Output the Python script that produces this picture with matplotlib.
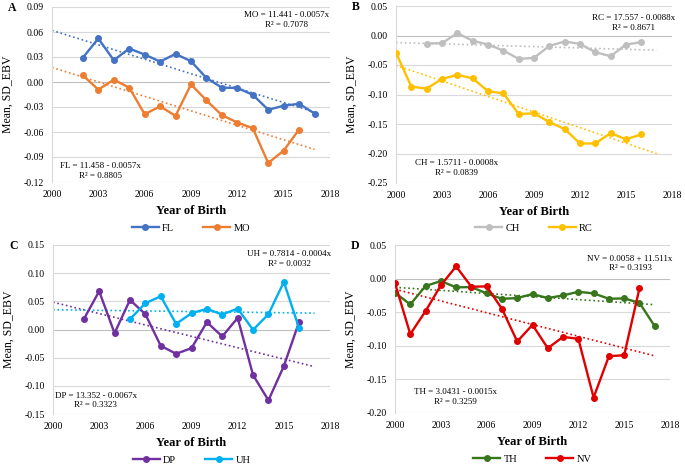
import numpy as np
import matplotlib
matplotlib.use("Agg")
import matplotlib.pyplot as plt

plt.rcParams['font.family'] = ['Liberation Serif', 'DejaVu Serif']

# ---- data ----
years_FL = list(range(2002, 2018))
FL = [0.0293, 0.0522, 0.0261, 0.0402, 0.0329, 0.0245, 0.0337, 0.0249, 0.0048,
      -0.0068, -0.0072, -0.0153, -0.0333, -0.0285, -0.0261, -0.0378]
years_MO = list(range(2002, 2017))
MO = [0.0080, -0.0092, 0.0028, -0.0068, -0.0386, -0.0293, -0.0406, -0.0028,
      -0.0221, -0.0398, -0.0486, -0.0554, -0.0972, -0.0823, -0.0570]

years_CH = list(range(2002, 2017))
CH = [-0.0136, -0.0130, 0.0040, -0.0090, -0.0153, -0.0255, -0.0396, -0.0380,
      -0.0176, -0.0102, -0.0142, -0.0283, -0.0351, -0.0153, -0.0113]
years_RC = list(range(2000, 2017))
RC = [-0.0294, -0.0866, -0.0900, -0.0736, -0.0668, -0.0725, -0.0946, -0.0980,
      -0.1330, -0.1320, -0.1467, -0.1586, -0.1830, -0.1830, -0.1654, -0.1760, -0.1676]

years_DP = list(range(2002, 2017))
DP = [0.0183, 0.0679, -0.0065, 0.0525, 0.0272, -0.0289, -0.0431, -0.0331,
      0.0130, -0.0124, 0.0207, -0.0809, -0.1257, -0.0650, 0.0142]
years_UH = list(range(2005, 2017))
UH = [0.0183, 0.0466, 0.0590, 0.0100, 0.0289, 0.0366, 0.0266, 0.0372,
      -0.0006, 0.0272, 0.0844, 0.0018]

years_TH = list(range(2000, 2018))
TH = [-0.0210, -0.0385, -0.0110, -0.0037, -0.0130, -0.0126, -0.0220, -0.0300,
      -0.0290, -0.0230, -0.0290, -0.0250, -0.0196, -0.0220, -0.0300, -0.0295,
      -0.0360, -0.0708]
years_NV = list(range(2000, 2017))
NV = [-0.0067, -0.0827, -0.0484, -0.0100, 0.0182, -0.0121, -0.0116, -0.0449,
      -0.0936, -0.0688, -0.1036, -0.0867, -0.0897, -0.1770, -0.1155, -0.1140, -0.0146]

panels = [
    dict(letter='A', rect=[52, 7, 330, 182], ylim=(-0.12, 0.09), step=0.03,
         series=[('FL', years_FL, FL, '#4472C4'), ('MO', years_MO, MO, '#ED7D31')],
         eq_top=('MO = 11.441 - 0.0057x', 'R\u00b2 = 0.7078'),
         eq_bot=('FL = 11.458 - 0.0057x', 'R\u00b2 = 0.8805'),
         top=(0.845, 0.925), bot=(0.176, 0.065), leg=-0.263),
    dict(letter='B', rect=[396, 6, 672, 183], ylim=(-0.25, 0.05), step=0.05,
         series=[('CH', years_CH, CH, '#BFBFBF'), ('RC', years_RC, RC, '#FFC000')],
         eq_top=('RC = 17.557 - 0.0088x', 'R\u00b2 = 0.8671'),
         eq_bot=('CH = 1.5711 - 0.0008x', 'R\u00b2 = 0.0839'),
         top=(0.862, 0.903), bot=(0.22, 0.085), leg=-0.255),
    dict(letter='C', rect=[53, 245, 330, 414], ylim=(-0.15, 0.15), step=0.05,
         series=[('DP', years_DP, DP, '#7030A0'), ('UH', years_UH, UH, '#00B0F0')],
         eq_top=('UH = 0.7814 - 0.0004x', 'R\u00b2 = 0.0032'),
         eq_bot=('DP = 13.352 - 0.0067x', 'R\u00b2 = 0.3323'),
         top=(0.852, 0.915), bot=(0.155, 0.08), leg=-0.272),
    dict(letter='D', rect=[395, 245, 670, 413], ylim=(-0.20, 0.05), step=0.05,
         series=[('TH', years_TH, TH, '#38761D'), ('NV', years_NV, NV, '#E00000')],
         eq_top=('NV = 0.0058 + 11.511x', 'R\u00b2 = 0.3193'),
         eq_bot=('TH = 3.0431 - 0.0015x', 'R\u00b2 = 0.3259'),
         top=(0.855, 0.89), bot=(0.22, 0.095), leg=-0.274),
]

W, H = 685, 466
fig = plt.figure(figsize=(W / 100, H / 100), dpi=100)

for p in panels:
    x0, y0, x1, y1 = p['rect']
    ax = fig.add_axes([x0 / W, 1 - y1 / H, (x1 - x0) / W, (y1 - y0) / H])
    lo, hi = p['ylim']
    ax.set_ylim(lo, hi)
    ax.set_xlim(2000, 2018)
    ticks = np.round(np.arange(lo, hi + 1e-9, p['step']), 3)
    ax.set_yticks(ticks)
    ax.set_yticklabels([('0.00' if abs(t) < 1e-9 else f'{t:.2f}') for t in ticks], fontsize=7)
    ax.set_xticks(range(2000, 2019, 3))
    ax.set_xticklabels([str(v) for v in range(2000, 2019, 3)], fontsize=7)
    ax.tick_params(length=0, pad=6)
    for t in ticks:
        ax.axhline(t, color='#BFBFBF' if abs(t) < 1e-9 else '#D9D9D9', lw=0.8, zorder=0)
    for s in ['top', 'right', 'bottom']:
        ax.spines[s].set_visible(False)
    ax.spines['left'].set_color('#D9D9D9')
    ax.spines['left'].set_linewidth(0.8)

    handles = []
    for name, yrs, vals, col in p['series']:
        h, = ax.plot(yrs, vals, '-o', color=col, lw=1.7, ms=4, label=name, zorder=3)
        handles.append(h)
        coef = np.polyfit(yrs, vals, 1)
        xx = np.array([2000, 2017])
        ax.plot(xx, np.polyval(coef, xx), ':', color=col, lw=1.2, zorder=2)

    ax.set_ylabel('Mean, SD_EBV', fontsize=8.5, labelpad=7)
    ax.set_xlabel('Year of Birth', fontsize=9, fontweight='bold', labelpad=4)
    ax.legend(handles=handles, loc='center', bbox_to_anchor=(0.5, p['leg']),
              ncol=2, frameon=False, fontsize=7.5, columnspacing=2.8,
              handlelength=2.6, handletextpad=0.3)
    ax.text(p['top'][0], p['top'][1], p['eq_top'][0] + '\n' + p['eq_top'][1],
            transform=ax.transAxes, ha='center', va='center', fontsize=6.5,
            linespacing=1.3)
    ax.text(p['bot'][0], p['bot'][1], p['eq_bot'][0] + '\n' + p['eq_bot'][1],
            transform=ax.transAxes, ha='center', va='center', fontsize=6.5,
            linespacing=1.3)
    fig.text((x0 - 44) / W, 1 - (y0 + 1) / H, p['letter'], fontsize=8.5,
             fontweight='bold', ha='left', va='center')

fig.savefig('out.png', dpi=100)
